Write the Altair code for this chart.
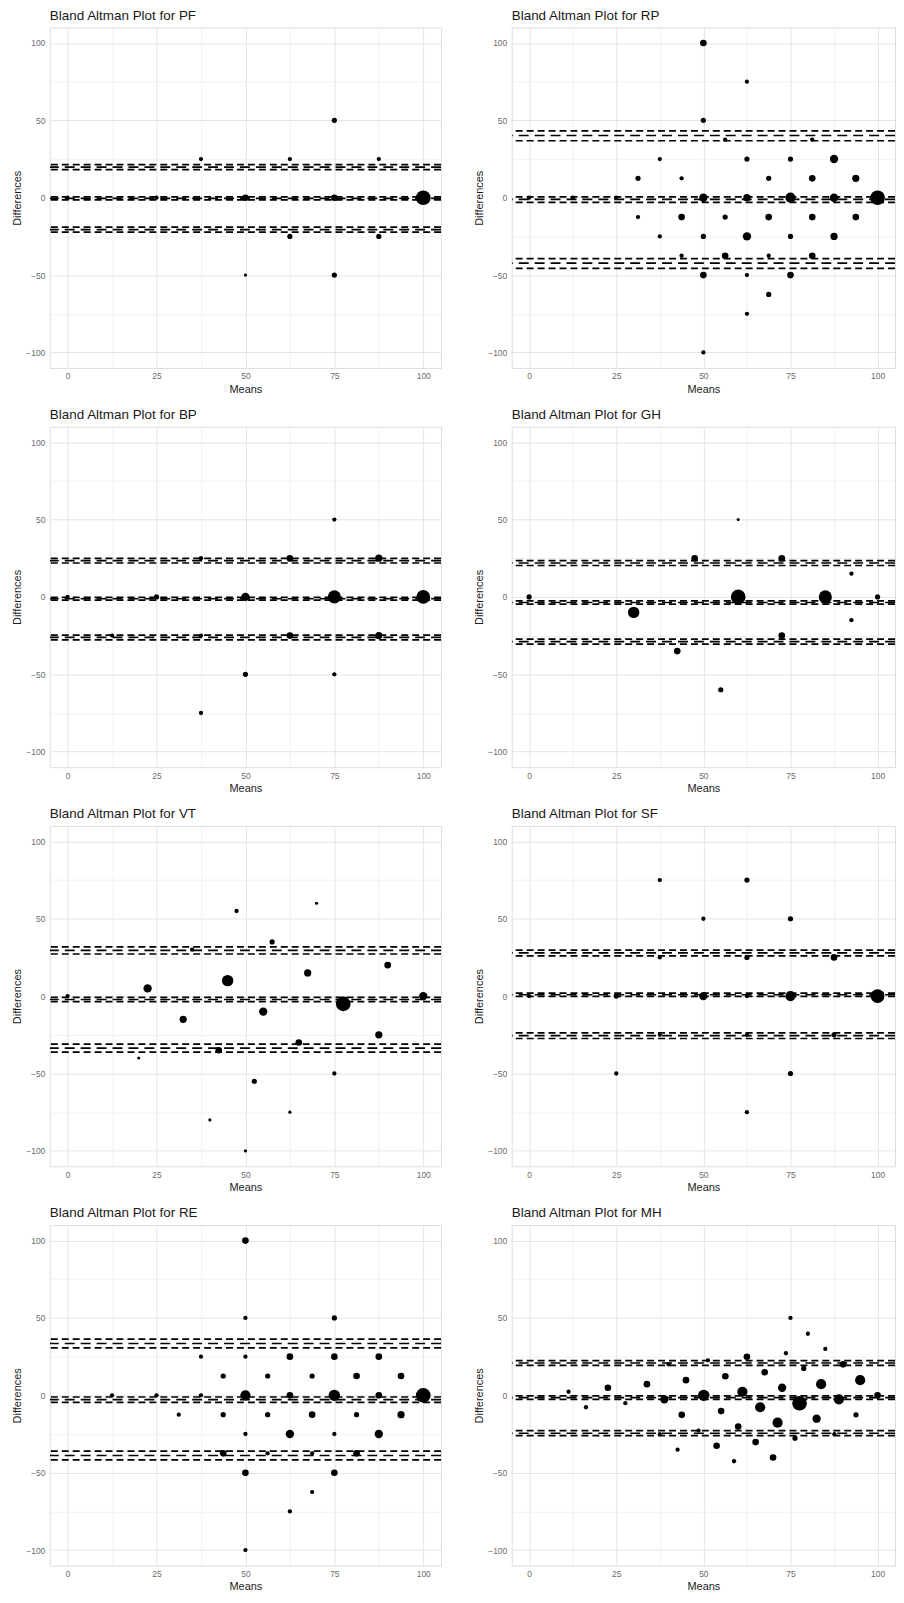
import altair as alt
import pandas as pd

FONT = "Liberation Sans"

panel_names = ["PF", "RP", "BP", "GH", "VT", "SF", "RE", "MH"]

# ---- PF ----
PF_x = [0, 25, 37.5, 50, 50, 62.5, 62.5, 75, 75, 75, 87.5, 87.5, 100]
PF_y = [0, 0, 25, 0, -50, 25, -25, 50, 0, -50, 25, -25, 0]
PF_n = [2, 2, 2, 5, 1, 2, 3, 3, 5, 3, 2, 3, 25]
PF_est = [19.8, -0.4, -20.6]
PF_ci = [21.4, 18.2, 0.6, -1.4, -19.0, -22.2]

# ---- RP ----
RP_x = [50, 62.5, 50, 56.25, 81.25, 37.5, 62.5, 75, 87.5,
        31.25, 43.75, 68.75, 81.25, 93.75,
        0, 12.5, 25, 50, 62.5, 75, 87.5, 100,
        31.25, 43.75, 56.25, 68.75, 81.25, 93.75,
        37.5, 50, 62.5, 75, 87.5,
        43.75, 56.25, 68.75, 81.25,
        50, 62.5, 75, 68.75, 62.5, 50]
RP_y = [100, 75, 50, 37.5, 37.5, 25, 25, 25, 25,
        12.5, 12.5, 12.5, 12.5, 12.5,
        0, 0, 0, 0, 0, 0, 0, 0,
        -12.5, -12.5, -12.5, -12.5, -12.5, -12.5,
        -25, -25, -25, -25, -25,
        -37.5, -37.5, -37.5, -37.5,
        -50, -50, -50, -62.5, -75, -100]
RP_n = [5, 2, 3, 2, 2, 2, 3, 3, 8,
        3, 2, 3, 5, 6,
        2, 2, 2, 8, 6, 12, 8, 25,
        2, 5, 3, 5, 5, 5,
        2, 3, 8, 3, 6,
        2, 5, 2, 5,
        5, 2, 5, 3, 2, 2]
RP_est = [40.2, -1.1, -42.3]
RP_ci = [43.2, 36.8, 0.6, -3.0, -39.4, -45.7]

# ---- BP ----
BP_x = [75, 37.5, 62.5, 87.5, 0, 25, 50, 75, 100, 12.5, 37.5, 62.5, 87.5, 50, 75, 37.5]
BP_y = [50, 25, 25, 25, 0, 0, 0, 0, 0, -25, -25, -25, -25, -50, -50, -75]
BP_n = [2, 2, 5, 6, 2, 3, 8, 20, 22, 2, 2, 5, 6, 3, 2, 2]
BP_est = [23.4, -1.2, -26.2]
BP_ci = [24.9, 21.9, -0.3, -2.1, -24.7, -27.7]

# ---- GH ----
GH_x = [60, 47.5, 72.5, 92.5, 0, 60, 85, 100, 30, 92.5, 72.5, 42.5, 55]
GH_y = [50, 25, 25, 15, 0, 0, 0, 0, -10, -15, -25, -35, -60]
GH_n = [1, 5, 5, 2, 3, 25, 20, 3, 15, 2, 5, 5, 3]
GH_est = [21.9, -3.6, -28.9]
GH_ci = [23.5, 20.3, -2.6, -4.7, -27.3, -30.5]

# ---- VT ----
VT_x = [0, 20, 22.5, 32.5, 35, 40, 42.5, 45, 47.5, 50, 52.5,
        55, 57.5, 62.5, 65, 67.5, 70, 75, 77.5, 87.5, 90, 100]
VT_y = [0, -40, 5, -15, 30, -80, -35, 10, 55, -100, -55,
        -10, 35, -75, -30, 15, 60, -50, -5, -25, 20, 0]
VT_n = [2, 1, 8, 6, 2, 1, 5, 15, 2, 1, 3,
        8, 3, 1, 5, 6, 1, 2, 25, 6, 5, 8]
VT_est = [29.6, -2.2, -33.6]
VT_ci = [31.8, 27.2, -0.8, -3.6, -31.0, -36.2]

# ---- SF ----
SF_x = [37.5, 62.5, 50, 75, 37.5, 62.5, 87.5, 0, 25, 50, 62.5, 75, 100, 37.5, 62.5, 87.5, 25, 75, 62.5]
SF_y = [75, 75, 50, 50, 25, 25, 25, 0, 0, 0, 0, 0, 0, -25, -25, -25, -50, -50, -75]
SF_n = [2, 3, 2, 3, 2, 3, 5, 2, 3, 8, 2, 12, 22, 2, 2, 3, 2, 3, 2]
SF_est = [27.9, 0.9, -25.5]
SF_ci = [29.7, 26.0, 1.9, -0.2, -23.7, -27.4]

# ---- RE ----
RE_x = [50, 50, 75,
        37.5, 50, 62.5, 75, 87.5,
        43.75, 56.25, 68.75, 81.25, 93.75,
        12.5, 25, 37.5, 50, 62.5, 75, 87.5, 100,
        31.25, 43.75, 56.25, 68.75, 81.25, 93.75,
        50, 62.5, 75, 87.5,
        43.75, 56.25, 68.75, 81.25,
        50, 75, 68.75, 62.5, 50]
RE_y = [100, 50, 50,
        25, 25, 25, 25, 25,
        12.5, 12.5, 12.5, 12.5, 12.5,
        0, 0, 0, 0, 0, 0, 0, 0,
        -12.5, -12.5, -12.5, -12.5, -12.5, -12.5,
        -25, -25, -25, -25,
        -37.5, -37.5, -37.5, -37.5,
        -50, -50, -62.5, -75, -100]
RE_n = [5, 2, 3,
        2, 2, 5, 5, 5,
        3, 3, 3, 5, 5,
        2, 2, 2, 12, 5, 15, 5, 25,
        2, 3, 3, 5, 3, 6,
        2, 8, 2, 8,
        5, 2, 2, 5,
        5, 5, 2, 2, 2]
RE_est = [33.5, -2.8, -38.9]
RE_ci = [36.3, 30.6, -1.1, -4.6, -36.1, -41.7]

# ---- MH ----
MH_x = [75, 80, 85, 73.7, 62.5, 51.3, 40, 90.1, 78.8, 67.6, 56.3, 45, 95, 83.8, 33.8,
        72.6, 22.6, 11.3, 61.2, 50.1, 100, 88.9, 38.8, 27.6, 77.6, 16.3, 66.3, 55.1,
        43.8, 93.8, 82.5, 60, 71.3, 76.3, 65, 53.8, 42.6, 58.8, 70, 87.6, 37.5, 48.6]
MH_y = [50, 39.8, 30, 27.2, 24.9, 22.6, 20, 20, 17.4, 14.9, 12.3, 9.8, 9.8, 7.2, 7.2,
        4.9, 4.9, 2.3, 2.3, 0, 0, -2.6, -2.6, -5.1, -5.1, -7.7, -7.7, -10.2,
        -12.6, -12.6, -15.1, -20.2, -17.7, -27.7, -30.2, -32.6, -35.1, -42.6, -40.2, -25.1, -25.1, -22.8]
MH_n = [2, 2, 2, 2, 5, 2, 2, 5, 3, 5, 5, 5, 12, 12, 5,
        8, 5, 2, 12, 15, 5, 12, 8, 2, 25, 2, 12, 5,
        5, 3, 8, 5, 12, 3, 5, 5, 2, 2, 5, 2, 2, 2]
MH_est = [20.9, -1.5, -24.5]
MH_ci = [22.4, 19.3, -0.3, -2.6, -22.8, -26.1]

x_grid_values = [0, 12.5, 25, 37.5, 50, 62.5, 75, 87.5, 100]
y_grid_values = [-100, -75, -50, -25, 0, 25, 50, 75, 100]

panel_data = {
    "PF": (PF_x, PF_y, PF_n, PF_est, PF_ci),
    "RP": (RP_x, RP_y, RP_n, RP_est, RP_ci),
    "BP": (BP_x, BP_y, BP_n, BP_est, BP_ci),
    "GH": (GH_x, GH_y, GH_n, GH_est, GH_ci),
    "VT": (VT_x, VT_y, VT_n, VT_est, VT_ci),
    "SF": (SF_x, SF_y, SF_n, SF_est, SF_ci),
    "RE": (RE_x, RE_y, RE_n, RE_est, RE_ci),
    "MH": (MH_x, MH_y, MH_n, MH_est, MH_ci),
}

W_LEFT = 393
W_RIGHT = 385
H = 342

x_axis = alt.Axis(
    title="Means", values=x_grid_values,
    labelExpr="datum.value % 25 === 0 ? datum.label : ''",
    ticks=False, domain=False, labelPadding=4, titlePadding=3,
    labelFontSize=8.5, labelColor="#6b6b6b", labelFont=FONT,
    titleFontSize=11, titleFont=FONT, titleFontWeight="normal", titleColor="#1a1a1a",
    gridColor="#e4e4e4",
    gridWidth={"condition": {"test": "datum.value % 25 !== 0", "value": 0.5}, "value": 1},
)
y_axis = alt.Axis(
    title="Differences", values=y_grid_values,
    labelExpr="datum.value % 50 === 0 ? datum.label : ''",
    ticks=False, domain=False, labelPadding=5, titlePadding=5,
    minExtent=22, maxExtent=22,
    labelFontSize=8.5, labelColor="#6b6b6b", labelFont=FONT,
    titleFontSize=11, titleFont=FONT, titleFontWeight="normal", titleColor="#1a1a1a",
    gridColor="#e4e4e4",
    gridWidth={"condition": {"test": "datum.value % 50 !== 0", "value": 0.5}, "value": 1},
)
x_scale = alt.Scale(domain=[-5, 105], nice=False, zero=False)
y_scale = alt.Scale(domain=[-110, 110], nice=False, zero=False)


def make_panel(name, width):
    xs, ys, ns, est, ci = panel_data[name]
    pts = pd.DataFrame({"Means": xs, "Differences": ys, "n": ns})
    est_df = pd.DataFrame({"Differences": est})
    ci_df = pd.DataFrame({"Differences": ci})
    title_df = pd.DataFrame({"t": [f"Bland Altman Plot for {name}"]})

    points = alt.Chart(pts).mark_circle(color="black", opacity=1).encode(
        x=alt.X("Means:Q", scale=x_scale, axis=x_axis),
        y=alt.Y("Differences:Q", scale=y_scale, axis=y_axis),
        size=alt.Size("n:Q", scale=alt.Scale(domain=[1, 30], range=[10, 260], zero=False), legend=None),
    )
    est_rules = alt.Chart(est_df).mark_rule(
        color="black", strokeWidth=1.7, strokeDash=[10, 6], clip=True
    ).encode(y=alt.Y("Differences:Q", scale=y_scale, axis=y_axis))
    ci_rules = alt.Chart(ci_df).mark_rule(
        color="black", strokeWidth=1.7, strokeDash=[7, 4], clip=True
    ).encode(y=alt.Y("Differences:Q", scale=y_scale, axis=y_axis))
    title = alt.Chart(title_df).mark_text(
        align="left", baseline="alphabetic", fontSize=13.5, font=FONT, color="#1a1a1a"
    ).encode(text="t:N", x=alt.value(0), y=alt.value(-8))
    return alt.layer(points, est_rules, ci_rules, title).properties(width=width, height=H)


rows = []
for i in range(0, 8, 2):
    rows.append(alt.hconcat(
        make_panel(panel_names[i], W_LEFT),
        make_panel(panel_names[i + 1], W_RIGHT),
        spacing=31,
    ))

chart = alt.vconcat(*rows, spacing=12).properties(
    padding={"left": 3, "top": -4, "right": 0, "bottom": -2}
).configure_view(
    stroke="#cfcfcf", strokeWidth=1
).configure(background="white")

chart.save("out.html", embed_options={"renderer": "svg", "actions": False})
